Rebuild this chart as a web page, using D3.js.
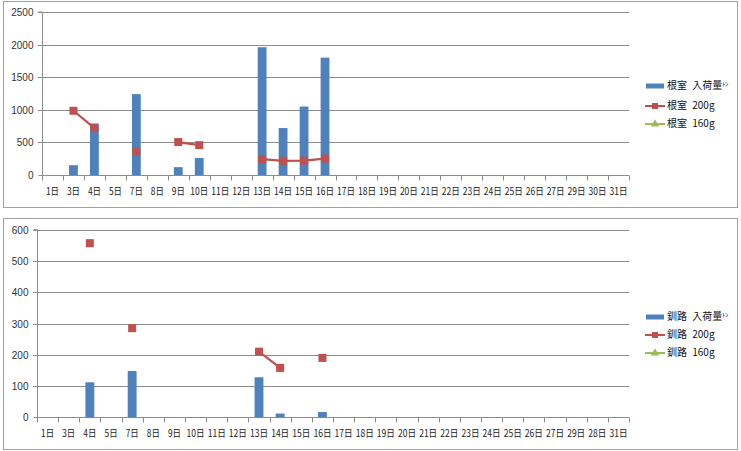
<!DOCTYPE html>
<html><head><meta charset="utf-8">
<script src="https://cdn.jsdelivr.net/npm/d3@7"></script>
<style>
body{margin:0;background:#fff;}
svg{display:block;font-family:"Noto Sans CJK JP","Noto Sans",sans-serif;}
</style></head>
<body>
<svg id="c" width="741" height="451"></svg>
<script>
const daysTop = ["1日","3日","4日","5日","7日","8日","9日","10日","11日","12日","13日","14日","15日","16日","17日","18日","19日","20日","21日","22日","23日","24日","25日","26日","27日","29日","30日","31日"];
const daysBottom = ["1日","3日","4日","5日","7日","8日","9日","10日","11日","12日","13日","14日","15日","16日","17日","18日","19日","20日","21日","22日","23日","24日","25日","26日","27日","29日","28日","31日"];

// 根室
const nemuroVolume = [null,150,790,null,1240,null,120,260,null,null,1960,720,1050,1800,null,null,null,null,null,null,null,null,null,null,null,null,null,null];
const nemuro200 = [null,985,718,null,360,null,505,458,null,null,243,218,220,252,null,null,null,null,null,null,null,null,null,null,null,null,null,null];
const nemuro160 = daysTop.map(() => null);
const nemuroTicks = [0,500,1000,1500,2000,2500];

// 釧路
const kushiroVolume = [null,null,112,null,148,null,null,null,null,null,128,12,null,17,null,null,null,null,null,null,null,null,null,null,null,null,null,null];
const kushiro200 = [null,null,557,null,285,null,null,null,null,null,210,158,null,190,null,null,null,null,null,null,null,null,null,null,null,null,null,null];
const kushiro160 = daysBottom.map(() => null);
const kushiroTicks = [0,100,200,300,400,500,600];

const legendTop = ["根室 入荷量","根室 200g","根室 160g"];
const legendBottom = ["釧路 入荷量","釧路 200g","釧路 160g"];

const BLUE="#4F81BD", RED="#C0504D", GREEN="#9BBB59";
const svg = d3.select("#c");

function drawChart(cfg){
  const g = svg.append("g");
  g.append("rect").attr("x",cfg.box[0]+0.5).attr("y",cfg.box[1]+0.5)
    .attr("width",cfg.box[2]).attr("height",cfg.box[3])
    .attr("fill","#fff").attr("stroke","#a0a0a0").attr("stroke-width",1);

  const x = d3.scaleBand().domain(cfg.cats.map((d,i)=>i)).range([cfg.left,cfg.right]);
  const y = d3.scaleLinear().domain([0,cfg.ticks[cfg.ticks.length-1]]).range([cfg.bottom,cfg.top]);

  // gridlines
  g.selectAll(".grid").data(cfg.ticks.slice(1)).enter().append("line")
    .attr("x1",cfg.left-4).attr("x2",cfg.right)
    .attr("y1",d=>Math.round(y(d))+0.5).attr("y2",d=>Math.round(y(d))+0.5)
    .attr("stroke","#8c8c8c").attr("stroke-width",1);

  // y axis
  const ya = g.append("g").attr("transform",`translate(${cfg.left+0.5},0)`)
    .call(d3.axisLeft(y).tickValues(cfg.ticks).tickSize(4).tickPadding(5).tickFormat(d3.format("d")));
  ya.select(".domain").attr("stroke","#8c8c8c").attr("d",`M-4,${cfg.top}H0V${cfg.bottom}`);
  ya.selectAll(".tick line").attr("stroke","#8c8c8c");
  ya.selectAll(".tick text").attr("fill","#333").style("font-size","10px").style("font-family","'Liberation Sans',Arial,sans-serif");
  ya.selectAll(".tick").attr("transform",d=>`translate(0,${Math.round(y(d))+0.5})`);

  // x axis
  const xa = g.append("g").attr("transform",`translate(0,${Math.round(cfg.bottom)+0.5})`);
  xa.append("line").attr("x1",cfg.left).attr("x2",cfg.right).attr("stroke","#8c8c8c");
  const bounds = d3.range(cfg.cats.length+1).map(i=> cfg.left + i*x.step());
  xa.selectAll(".xt").data(bounds).enter().append("line")
    .attr("x1",d=>Math.round(d)+0.5).attr("x2",d=>Math.round(d)+0.5).attr("y1",0).attr("y2",5)
    .attr("stroke","#8c8c8c");
  xa.selectAll(".xl").data(cfg.cats).enter().append("text")
    .attr("x",(d,i)=>x(i)+x.bandwidth()/2).attr("y",cfg.labelY-Math.round(cfg.bottom))
    .attr("text-anchor","middle").attr("dominant-baseline","middle")
    .attr("fill","#222").style("font-size","10.5px")
    .attr("textLength",d=>(d.length-1)*5+8).attr("lengthAdjust","spacingAndGlyphs")
    .text(d=>d);

  // bars
  const bw = x.bandwidth()*0.42;
  g.selectAll(".bar").data(cfg.vol.map((v,i)=>({v,i})).filter(d=>d.v!=null)).enter().append("rect")
    .attr("x",d=>x(d.i)+x.bandwidth()/2-bw/2).attr("width",bw)
    .attr("y",d=>y(d.v)).attr("height",d=>y(0)-y(d.v)).attr("fill",BLUE);

  // lines
  const line = d3.line().defined(d=>d.v!=null).x(d=>x(d.i)+x.bandwidth()/2).y(d=>y(d.v));
  [[cfg.s200,RED],[cfg.s160,GREEN]].forEach(([s,c])=>{
    const pts = s.map((v,i)=>({v,i}));
    g.append("path").datum(pts).attr("d",line).attr("fill","none").attr("stroke",c).attr("stroke-width",2.2);
    g.selectAll(null).data(pts.filter(d=>d.v!=null)).enter().append("rect")
      .attr("x",d=>x(d.i)+x.bandwidth()/2-4).attr("y",d=>y(d.v)-4)
      .attr("width",8).attr("height",8).attr("fill",c);
  });

  // legend
  const lg = g.append("g");
  cfg.legend.forEach((t,k)=>{
    const ly = cfg.legY[k];
    if(k===0){
      lg.append("rect").attr("x",646).attr("y",ly-2.5).attr("width",18).attr("height",5).attr("fill",BLUE);
    } else {
      const c = k===1?RED:GREEN;
      lg.append("line").attr("x1",645).attr("x2",665).attr("y1",ly).attr("y2",ly).attr("stroke",c).attr("stroke-width",2);
      if(k===1) lg.append("rect").attr("x",652).attr("y",ly-3).attr("width",6).attr("height",6).attr("fill",c);
      else lg.append("path").attr("d",d3.symbol(d3.symbolTriangle,30)()).attr("transform",`translate(655,${ly})`).attr("fill",c);
    }
    const tx = lg.append("text").attr("x",667).attr("y",ly).attr("dominant-baseline","middle")
      .attr("fill","#111").style("font-size","10px").style("word-spacing","3px").text(t);
    if(k===0) tx.append("tspan").style("font-size","6px").attr("dy","-2").text("ﾄﾝ");
  });
}

drawChart({box:[3,1,734,206],cats:daysTop,left:42,right:629,top:12,bottom:175,ticks:nemuroTicks,
  vol:nemuroVolume,s200:nemuro200,s160:nemuro160,labelY:192,legend:legendTop,legY:[86,106,124]});
drawChart({box:[3,218,734,231],cats:daysBottom,left:37,right:629,top:229.7,bottom:417.3,ticks:kushiroTicks,
  vol:kushiroVolume,s200:kushiro200,s160:kushiro160,labelY:434,legend:legendBottom,legY:[317,335,353]});
</script>
</body></html>
